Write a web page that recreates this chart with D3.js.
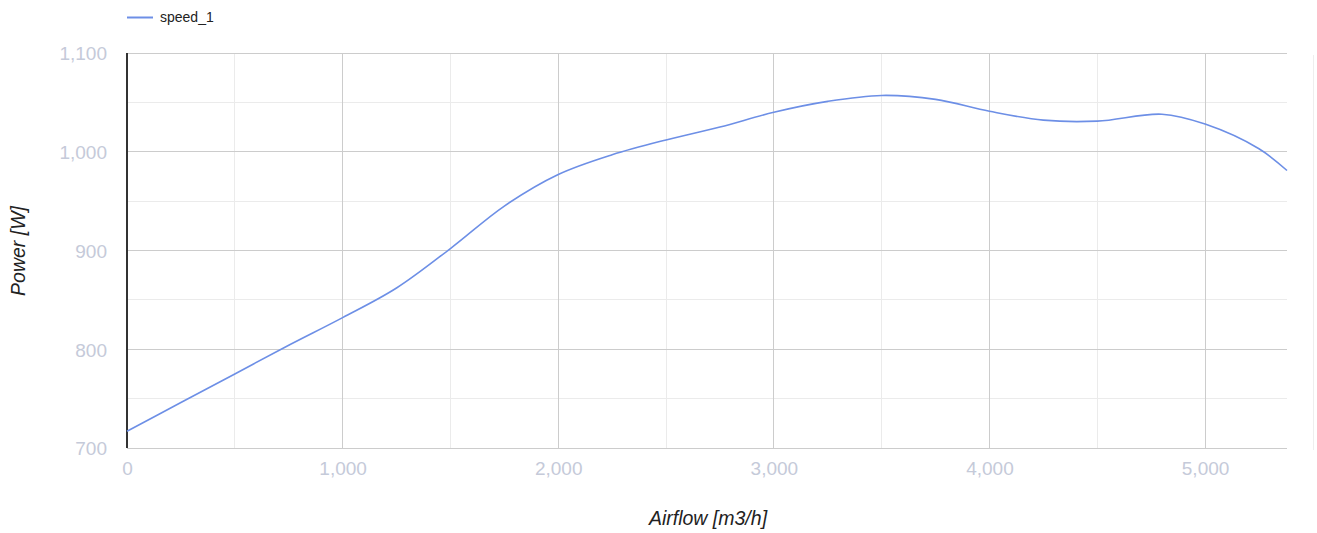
<!DOCTYPE html>
<html><head><meta charset="utf-8">
<script src="https://cdn.jsdelivr.net/npm/d3@7"></script>
<style>body{margin:0;background:#fff;font-family:"Liberation Sans", Arial, sans-serif}</style>
</head><body>
<svg id="c" width="1317" height="533"></svg>
<script>
const seriesName = "speed_1";
const airflow = [0,250,500,750,1000,1250,1500,1750,2000,2250,2500,2750,3000,3250,3500,3750,4000,4250,4500,4800,5000,5250,5380];
const power   = [717,746,775,804,832,862,902,945,977,997,1012,1025,1040,1051,1057,1053,1041,1032,1031,1038,1028,1003,981];
const xTicks = [0,1000,2000,3000,4000,5000];
const yTicks = [700,800,900,1000,1100];
const xTitle = "Airflow [m3/h]", yTitle = "Power [W]";

const FONT = '"Liberation Sans", Arial, sans-serif';
const svg = d3.select("#c");
const m = {l:127, r:1287, t:53, b:448};
const x = d3.scaleLinear().domain([0,5380]).range([m.l,m.r]);
const y = d3.scaleLinear().domain([700,1100]).range([m.b,m.t]);

// minor grid
const xMinor = d3.range(500,5380,1000), yMinor = d3.range(750,1100,100);
svg.append("g").selectAll("line").data(xMinor).join("line")
  .attr("x1",d=>x(d)).attr("x2",d=>x(d)).attr("y1",m.t).attr("y2",m.b)
  .attr("stroke","#ebebeb").attr("shape-rendering","crispEdges");
svg.append("g").selectAll("line").data(yMinor).join("line")
  .attr("y1",d=>y(d)).attr("y2",d=>y(d)).attr("x1",m.l).attr("x2",m.r)
  .attr("stroke","#ebebeb").attr("shape-rendering","crispEdges");
// major grid
svg.append("g").selectAll("line").data(xTicks.slice(1)).join("line")
  .attr("x1",d=>x(d)).attr("x2",d=>x(d)).attr("y1",m.t).attr("y2",m.b)
  .attr("stroke","#cccccc").attr("shape-rendering","crispEdges");
svg.append("g").selectAll("line").data(yTicks).join("line")
  .attr("y1",d=>y(d)).attr("y2",d=>y(d)).attr("x1",m.l).attr("x2",m.r)
  .attr("stroke","#cccccc").attr("shape-rendering","crispEdges");
// faint right line
svg.append("line").attr("x1",1313).attr("x2",1313).attr("y1",m.t+2).attr("y2",m.b+2)
  .attr("stroke","#eeeeee").attr("shape-rendering","crispEdges");

// axes via d3 axis (labels)
const fmt = d3.format(",");
const xa = svg.append("g").attr("transform",`translate(0,${m.b})`)
  .call(d3.axisBottom(x).tickValues(xTicks).tickFormat(fmt).tickSize(0).tickPadding(14));
const ya = svg.append("g").attr("transform",`translate(${m.l},0)`)
  .call(d3.axisLeft(y).tickValues(yTicks).tickFormat(fmt).tickSize(0).tickPadding(20));
[xa,ya].forEach(a=>{a.select(".domain").remove();
  a.selectAll("text").attr("fill","#c5cad9").attr("font-size","19px").attr("font-family",FONT);});
ya.selectAll("text").attr("dy","0.36em");

// left axis line
svg.append("line").attr("x1",m.l).attr("x2",m.l).attr("y1",m.t).attr("y2",m.b)
  .attr("stroke","#333").attr("stroke-width",1.2).attr("shape-rendering","crispEdges");

// curve
const line = d3.line().x((d,i)=>x(airflow[i])).y(d=>y(d)).curve(d3.curveCatmullRom.alpha(0.5));
svg.append("path").datum(power).attr("d",line).attr("fill","none")
  .attr("stroke","#6d8fe6").attr("stroke-width",1.6);

// titles
svg.append("text").attr("x",708).attr("y",525).attr("text-anchor","middle").attr("font-family",FONT)
  .attr("font-style","italic").attr("font-size","19.5px").attr("fill","#222").text(xTitle);
svg.append("text").attr("transform","translate(25,251) rotate(-90)").attr("text-anchor","middle").attr("font-family",FONT)
  .attr("font-style","italic").attr("font-size","19.5px").attr("fill","#222").text(yTitle);

// legend
svg.append("line").attr("x1",127).attr("x2",153).attr("y1",17.5).attr("y2",17.5)
  .attr("stroke","#6d8fe6").attr("stroke-width",2);
svg.append("text").attr("x",160).attr("y",22).attr("font-size","14px").attr("font-family",FONT).attr("fill","#222").text(seriesName);
</script>
</body></html>
